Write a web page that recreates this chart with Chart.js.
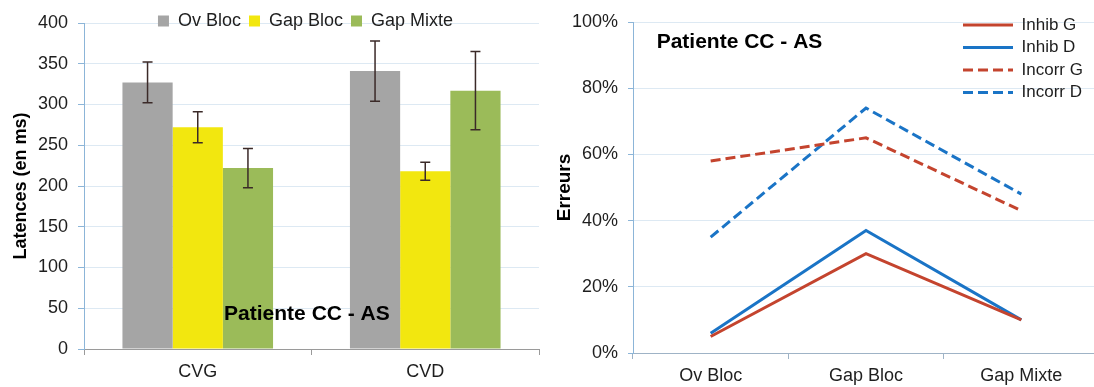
<!DOCTYPE html>
<html>
<head>
<meta charset="utf-8">
<script src="https://cdn.jsdelivr.net/npm/chart.js@4/dist/chart.umd.min.js"></script>
<style>
  html, body { margin: 0; padding: 0; background: #fff; overflow: hidden; }
  #wrap { position: relative; width: 1094px; height: 387px; overflow: hidden; }
  #latChart { position: absolute; left: 0; top: 0; width: 545px; height: 387px; }
  #errChart { position: absolute; left: 545px; top: 0; width: 560px; height: 387px; }
</style>
</head>
<body>
<div id="wrap">
  <canvas id="latChart" width="545" height="387"></canvas>
  <canvas id="errChart" width="560" height="387"></canvas>
</div>
<script>
// ---- left chart: latencies ----
const sides = ["CVG", "CVD"];
const ovBloc = [327, 341];
const gapBloc = [272, 218];
const gapMixte = [222, 317];
const ovBlocErr = [25, 37];
const gapBlocErr = [19, 11];
const gapMixteErr = [24, 48];
const latTicks = [0, 50, 100, 150, 200, 250, 300, 350, 400];

// ---- right chart: errors (%) ----
const conditions = ["Ov Bloc", "Gap Bloc", "Gap Mixte"];
const inhibG = [5, 30, 10];
const inhibD = [6, 37, 10];
const incorrG = [58, 65, 43];
const incorrD = [35, 74, 48];
const errTicks = [0, 20, 40, 60, 80, 100];

const FONT = "'Liberation Sans', Arial, sans-serif";
Chart.defaults.font.family = FONT;
Chart.defaults.font.size = 18;
Chart.defaults.color = "#1e1e1e";

const AXIS_BLUE = "#8cb5d8";
const GRID = "#dde9f3";
const RED = "#c4442e";
const BLUE = "#1a74c6";

// error bars drawn from the y scale
const errorBars = {
  id: "errorBars",
  afterDatasetsDraw(chart, args, opts) {
    const ctx = chart.ctx;
    const y = chart.scales.y;
    ctx.save();
    ctx.strokeStyle = opts.color;
    ctx.lineWidth = opts.width;
    chart.data.datasets.forEach((ds, i) => {
      if (!ds.errors) return;
      chart.getDatasetMeta(i).data.forEach((bar, j) => {
        const top = y.getPixelForValue(ds.data[j] + ds.errors[j]);
        const bot = y.getPixelForValue(ds.data[j] - ds.errors[j]);
        ctx.beginPath();
        ctx.moveTo(bar.x, top); ctx.lineTo(bar.x, bot);
        ctx.moveTo(bar.x - opts.cap, top); ctx.lineTo(bar.x + opts.cap, top);
        ctx.moveTo(bar.x - opts.cap, bot); ctx.lineTo(bar.x + opts.cap, bot);
        ctx.stroke();
      });
    });
    ctx.restore();
  }
};

// "Patiente CC - AS" label inside the plot area
const overlayTitle = {
  id: "overlayTitle",
  afterDatasetsDraw(chart, args, opts) {
    if (!opts.text) return;
    const a = chart.chartArea;
    const ctx = chart.ctx;
    ctx.save();
    ctx.font = "bold 21px " + FONT;
    ctx.fillStyle = "#000";
    ctx.textAlign = "center";
    ctx.textBaseline = "alphabetic";
    ctx.fillText(opts.text, a.left + a.width * opts.x, a.top + a.height * opts.y);
    ctx.restore();
  }
};

// legend sits over the plot area like in the original
const legendSpot = {
  id: "legendSpot",
  afterLayout(chart, args, opts) {
    const lg = chart.legend;
    if (!lg) return;
    const w = lg.width, h = lg.height;
    if (opts.top !== undefined) { lg.top = opts.top; lg.bottom = opts.top + h; }
    if (opts.left !== undefined) { lg.left = opts.left; lg.right = opts.left + w; }
    if (opts.dx) { lg.left += opts.dx; lg.right += opts.dx; }
  }
};

function pinTop(chart, top) {
  const diff = chart.chartArea.top - top;
  if (Math.abs(diff) > 0.1) {
    const p = chart.config.options.layout.padding;
    chart.config.options.layout.padding = Object.assign({}, p, { top: p.top - diff });
    chart.update();
  }
}

// line samples in the legend: same width, colour and dash as the series
function lineLabels(chart) {
  const base = Chart.defaults.plugins.legend.labels.generateLabels(chart);
  return base.map(item => {
    const ds = chart.data.datasets[item.datasetIndex];
    item.lineWidth = 3;
    item.strokeStyle = ds.borderColor;
    item.fillStyle = ds.borderColor;
    item.lineDash = ds.borderDash || [];
    item.pointStyle = "line";
    return item;
  });
}

const latChart = new Chart(document.getElementById("latChart"), {
  type: "bar",
  data: {
    labels: sides,
    datasets: [
      { label: "Ov Bloc", data: ovBloc, errors: ovBlocErr, backgroundColor: "#a5a5a5" },
      { label: "Gap Bloc", data: gapBloc, errors: gapBlocErr, backgroundColor: "#f2e70f" },
      { label: "Gap Mixte", data: gapMixte, errors: gapMixteErr, backgroundColor: "#9bbb59" }
    ]
  },
  options: {
    responsive: false,
    animation: false,
    devicePixelRatio: 1,
    barPercentage: 1,
    categoryPercentage: 0.662,
    layout: { padding: { top: -9, left: 0, right: 6, bottom: 0 } },
    scales: {
      x: {
        grid: { drawOnChartArea: false, tickLength: 6, tickColor: "#9a9a9a", offset: true },
        border: { color: "#9a9a9a" },
        ticks: { padding: 6 },
        afterFit: s => { s.height = 38; }
      },
      y: {
        min: 0, max: 400,
        afterBuildTicks: s => { s.ticks = latTicks.map(v => ({ value: v })); },
        grid: { color: GRID, tickColor: AXIS_BLUE, tickLength: 6 },
        border: { color: AXIS_BLUE },
        ticks: { padding: 10 },
        title: {
          display: true,
          text: "Latences (en ms)",
          font: { size: 18, weight: "bold" },
          color: "#000",
          padding: { top: 10, bottom: 0 }
        },
        afterFit: s => { s.width = 84; }
      }
    },
    plugins: {
      legend: {
        position: "top",
        fullSize: false,
        labels: { boxWidth: 11, boxHeight: 11, padding: 8, font: { size: 18 } }
      },
      tooltip: { enabled: false },
      errorBars: { color: "#3b2a28", width: 1.5, cap: 5 },
      overlayTitle: { text: "Patiente CC - AS", x: 0.49, y: 0.911 },
      legendSpot: { top: 4, dx: -6 }
    }
  },
  plugins: [errorBars, overlayTitle, legendSpot]
});
pinTop(latChart, 23);

const errChart = new Chart(document.getElementById("errChart"), {
  type: "line",
  data: {
    labels: conditions,
    datasets: [
      { label: "Inhib G", data: inhibG, borderColor: RED, backgroundColor: RED },
      { label: "Inhib D", data: inhibD, borderColor: BLUE, backgroundColor: BLUE },
      { label: "Incorr G", data: incorrG, borderColor: RED, backgroundColor: RED, borderDash: [10, 5] },
      { label: "Incorr D", data: incorrD, borderColor: BLUE, backgroundColor: BLUE, borderDash: [10, 5] }
    ]
  },
  options: {
    responsive: false,
    animation: false,
    devicePixelRatio: 1,
    layout: { padding: { top: 22, left: 0, right: 6, bottom: 0 } },
    elements: {
      line: { borderWidth: 3, tension: 0, borderCapStyle: "butt" },
      point: { radius: 0, hoverRadius: 0 }
    },
    scales: {
      x: {
        offset: true,
        grid: { drawOnChartArea: false, tickLength: 6, tickColor: "#9fb3c6", offset: true },
        border: { color: "#9fb3c6" },
        ticks: { padding: 6 },
        afterFit: s => { s.height = 34; }
      },
      y: {
        min: 0, max: 100,
        afterBuildTicks: s => { s.ticks = errTicks.map(v => ({ value: v })); },
        grid: { color: GRID, tickColor: AXIS_BLUE, tickLength: 5 },
        border: { color: AXIS_BLUE },
        ticks: { padding: 10, callback: v => v + "%" },
        title: {
          display: true,
          text: "Erreurs",
          font: { size: 19, weight: "bold" },
          color: "#000",
          padding: { top: 8, bottom: 0 }
        },
        afterFit: s => { s.width = 88; }
      }
    },
    plugins: {
      legend: {
        position: "chartArea",
        align: "start",
        labels: {
          usePointStyle: true,
          pointStyle: "line",
          pointStyleWidth: 50,
          padding: 5.5,
          font: { size: 17 },
          generateLabels: lineLabels
        }
      },
      tooltip: { enabled: false },
      overlayTitle: { text: "Patiente CC - AS", x: 0.2285, y: 0.0785 },
      legendSpot: { top: 11, left: 412.5 }
    }
  },
  plugins: [overlayTitle, legendSpot]
});
pinTop(errChart, 22);
</script>
</body>
</html>
